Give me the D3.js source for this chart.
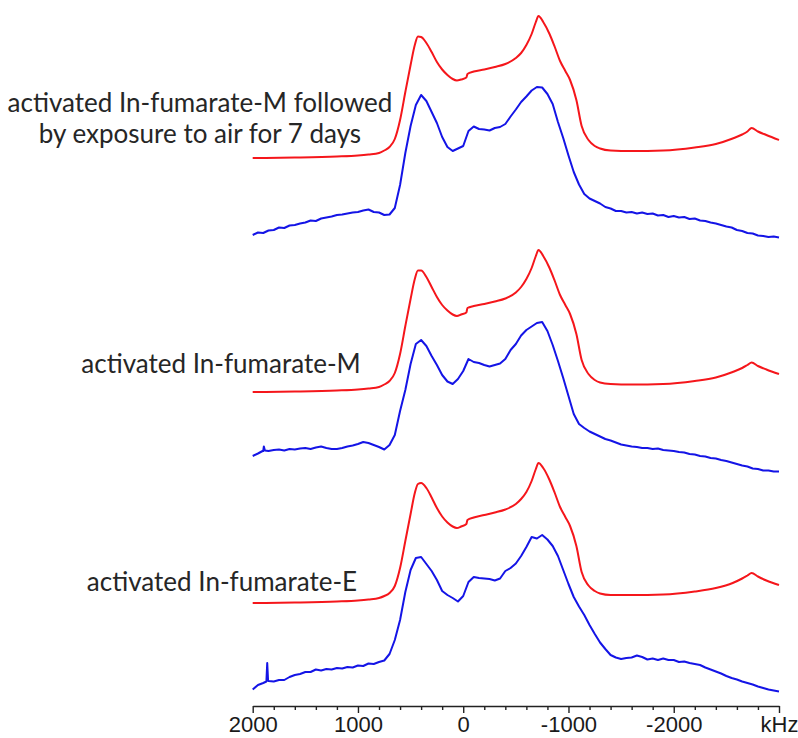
<!DOCTYPE html>
<html>
<head>
<meta charset="utf-8">
<script src="https://cdn.jsdelivr.net/npm/d3@7"></script>
<style>
  html, body { margin: 0; padding: 0; background: #fff; }
  svg { display: block; }
</style>
</head>
<body>
<svg id="chart" width="798" height="738"></svg>
<script>
// Frequency grid (kHz) for the measured spectra
const measuredKHz = [2000, 1950, 1900, 1850, 1800, 1750, 1700, 1650, 1600, 1550, 1500, 1450, 1400, 1350, 1300, 1250, 1200, 1150, 1100, 1050, 1000, 950, 900, 850, 800, 750, 700, 650, 600, 550, 500, 450, 400, 350, 300, 250, 200, 150, 100, 50, 0, -50, -100, -150, -200, -250, -300, -350, -400, -450, -500, -550, -600, -650, -700, -750, -800, -850, -900, -950, -1000, -1050, -1100, -1150, -1200, -1250, -1300, -1350, -1400, -1450, -1500, -1550, -1600, -1650, -1700, -1750, -1800, -1850, -1900, -1950, -2000, -2050, -2100, -2150, -2200, -2250, -2300, -2350, -2400, -2450, -2500, -2550, -2600, -2650, -2700, -2750, -2800, -2850, -2900, -2950, -3000];

// Measured intensities (arb. units)
const measuredAir = [1, 3.5, 3, 5.5, 6, 8.5, 8, 10.5, 11, 12.5, 13.5, 15.5, 15, 17.5, 18.5, 19.5, 21, 21.5, 22.5, 23.5, 24, 25.5, 26.5, 24, 23.5, 21, 21.5, 28, 51, 83, 110, 131, 141, 135, 124, 113, 99, 89, 85, 87.5, 90, 105, 109.5, 107, 106.5, 105.5, 108, 109, 112, 119.5, 126.5, 134, 139.5, 145.5, 149, 148.5, 142, 132, 114, 98, 80.5, 64, 51.5, 42, 37.5, 35, 32.5, 29, 27.5, 25, 25, 23.5, 24, 22.5, 23.5, 22, 22.5, 20.5, 21, 19, 20, 18.5, 19, 17, 17.5, 15.5, 15, 13.5, 12.5, 11, 9.5, 8.5, 6, 5, 3, 2.5, 0.5, 0, -1, -0.5, -1.5];

const measuredM = [0, 2.5, 5, 5, 6, 6.5, 5.5, 7, 6.5, 7.5, 8, 7, 8.5, 9.5, 8, 7, 7, 8, 9.5, 10.5, 12, 14, 13, 11, 9, 6.5, 11, 21, 45, 66, 92, 112, 116, 110, 100, 91, 81, 74.5, 72, 77, 85, 97, 94, 93, 91, 89.5, 91, 92.5, 97, 106, 112, 120.5, 126, 129.5, 133, 134, 125, 111, 95, 78, 60, 42, 32, 28, 24.5, 22, 19.5, 17, 15.5, 13.5, 11.5, 10.5, 9.5, 9, 8, 8, 7, 7.5, 6, 5.5, 5, 4, 3.5, 2, 1.5, 0, -0.5, -2, -2.5, -4, -5, -6.5, -8, -9.5, -10.5, -12.5, -13, -14.5, -14.5, -15.5, -15.5];

const measuredE = [0.5, 5, 7, 9, 8.5, 10, 10, 13, 15, 16, 18, 18, 20.5, 19.5, 21, 20.5, 22, 21.5, 23, 22.5, 24.5, 24, 26.5, 26, 28, 29.5, 36, 50, 70, 98, 120, 132, 133, 126, 119, 110, 99, 95, 92, 88.5, 94, 108, 113, 112, 111.5, 111, 109.5, 111.5, 119, 122, 126.5, 134, 143, 153, 151.5, 155, 150.5, 144, 134, 120, 106, 93, 83.5, 75, 65, 56, 47.5, 41, 35, 32.5, 31, 32, 32.5, 34.5, 33, 30.5, 31.5, 30, 31.5, 30, 30, 28, 28.5, 27, 26, 25, 22.5, 20.5, 18.5, 16.5, 14, 12, 10.5, 8.5, 7, 5.5, 3.5, 2, 0.5, -0.5, -1.5];

// Narrow lines riding on the measured spectra: [kHz, intensity]
const spikeM = [[1906, 5], [1894, 9.5], [1884, 5.5]];
const spikeE = [[1870, 8.5], [1862, 27], [1854, 9.5]];

// Frequency grid (kHz) for the simulated spectra
const simKHz = [2000, 1600, 1200, 1000, 900, 800, 750, 700, 650, 600, 550, 500, 460, 430, 400, 350, 300, 250, 200, 150, 100, 60, 20, -30, -40, -100, -200, -300, -400, -500, -550, -600, -650, -690, -715, -760, -820, -870, -920, -970, -1015, -1075, -1125, -1190, -1250, -1300, -1400, -1600, -1900, -2200, -2400, -2560, -2650, -2700, -2740, -2800, -2880, -3000];

// Simulated intensities (arb. units)
const simAir = [0, 0.5, 1.5, 2.5, 3.5, 5, 7.5, 11, 19, 38, 66, 93, 113, 121.5, 121, 115, 106, 96, 88.5, 83, 79, 77.5, 78.5, 80.5, 84, 86.5, 88.5, 91, 94, 100, 105, 113, 124, 136, 142, 136, 124, 111, 97, 87, 78, 58, 32, 18, 12, 9.5, 7.5, 7, 7.5, 10.5, 14, 19.5, 23.5, 26.5, 30, 26.5, 23, 18];
const simM = [0, 0.5, 1.5, 2.5, 3.5, 5, 7.5, 11, 19, 38, 66, 93, 113, 121.5, 121.5, 115, 105, 95, 87, 81.5, 77.5, 76, 77.5, 79.5, 84, 86, 88, 90.5, 93.5, 99.5, 105, 113, 124, 136, 142, 136, 124, 111, 97, 87, 78, 58, 32, 18, 12, 9.5, 8, 7.5, 8, 11, 14.5, 20, 24, 27, 29.5, 26, 22.5, 18];
const simE = [0, 0.5, 1.5, 2.5, 3.5, 5, 7, 10, 17, 35, 62, 89, 110, 119, 120, 115, 105.5, 95, 86.5, 80.5, 76.5, 75, 76.5, 79, 83, 85.5, 88, 90.5, 93.5, 99, 104, 111, 122, 134, 140, 135, 123, 110, 96, 86, 77, 57, 31, 17.5, 12, 9.5, 8, 8, 8.5, 11.5, 15, 20, 24.5, 27.5, 30, 26.5, 22.5, 18];

// Axis ticks
const majorTicks = [2000, 1000, 0, -1000, -2000, -3000];
const minorTicks = [1800, 1600, 1400, 1200, 800, 600, 400, 200, -200, -400, -600, -800, -1200, -1400, -1600, -1800, -2200, -2400, -2600, -2800];
const unitLabel = "kHz";

// Sample labels
const labelAirLines = ["activated In-fumarate-M followed", "by exposure to air for 7 days"];
const labelM = "activated In-fumarate-M";
const labelE = "activated In-fumarate-E";

const RED = "#f5161b";
const BLUE = "#1414e6";

const svg = d3.select("#chart");

const x = d3.scaleLinear().domain([2000, -3000]).range([252.7, 779]);
// one intensity unit per pixel, measured upward from each trace's baseline
const y = d3.scaleLinear().domain([0, 100]).range([0, -100]);

function withSpikes(values, spikes) {
  const pts = measuredKHz.map((k, i) => [k, values[i]]);
  return pts.concat(spikes).sort((a, b) => b[0] - a[0]);
}

const smooth = d3.line().x(d => x(d[0])).y(d => y(d[1])).curve(d3.curveMonotoneX);
const jagged = d3.line().x(d => x(d[0])).y(d => y(d[1]));

const traces = [
  { pts: simKHz.map((k, i) => [k, simAir[i]]), base: 158, color: RED, gen: smooth },
  { pts: withSpikes(measuredAir, []), base: 236, color: BLUE, gen: jagged },
  { pts: simKHz.map((k, i) => [k, simM[i]]), base: 392, color: RED, gen: smooth },
  { pts: withSpikes(measuredM, spikeM), base: 456, color: BLUE, gen: jagged },
  { pts: simKHz.map((k, i) => [k, simE[i]]), base: 603, color: RED, gen: smooth },
  { pts: withSpikes(measuredE, spikeE), base: 690, color: BLUE, gen: jagged }
];

svg.selectAll("g.trace")
  .data(traces)
  .join("g")
  .attr("class", "trace")
  .attr("transform", d => `translate(0,${d.base})`)
  .append("path")
  .attr("d", d => d.gen(d.pts))
  .attr("fill", "none")
  .attr("stroke", d => d.color)
  .attr("stroke-width", 2)
  .attr("stroke-linejoin", "round");

// Frequency axis
const axisY = 706;
const minorAxis = d3.axisBottom(x).tickValues(minorTicks).tickSize(4).tickSizeOuter(0).tickFormat("");
const majorAxis = d3.axisBottom(x).tickValues(majorTicks).tickSize(7).tickSizeOuter(0)
  .tickFormat(d => d === -3000 ? unitLabel : String(d));

const gMinor = svg.append("g").attr("transform", `translate(0,${axisY})`).call(minorAxis);
gMinor.select(".domain").remove();
gMinor.selectAll("line").attr("stroke", "#222").attr("stroke-width", 1.4);

const gMajor = svg.append("g").attr("transform", `translate(0,${axisY})`).call(majorAxis);
gMajor.select(".domain").attr("stroke", "#222").attr("stroke-width", 1.6);
gMajor.selectAll("line").attr("stroke", "#222").attr("stroke-width", 1.4);
gMajor.selectAll("text")
  .attr("y", 26).attr("dy", 0)
  .attr("fill", "#1a1a1a")
  .style("font-family", "'Liberation Sans', Arial, sans-serif")
  .style("font-size", "22px");

// Sample labels
const labelStyle = sel => sel
  .attr("text-anchor", "middle")
  .attr("fill", "#262626")
  .style("font-family", "Lato, 'Open Sans', sans-serif")
  .style("font-size", "26px");

svg.append("text").call(labelStyle)
  .attr("x", 200).attr("y", 112)
  .selectAll("tspan")
  .data(labelAirLines)
  .join("tspan")
  .attr("x", 200)
  .attr("dy", (d, i) => i === 0 ? 0 : 31)
  .text(d => d);

svg.append("text").call(labelStyle).attr("x", 221).attr("y", 373).text(labelM);
svg.append("text").call(labelStyle).attr("x", 222).attr("y", 591).text(labelE);
</script>
</body>
</html>
